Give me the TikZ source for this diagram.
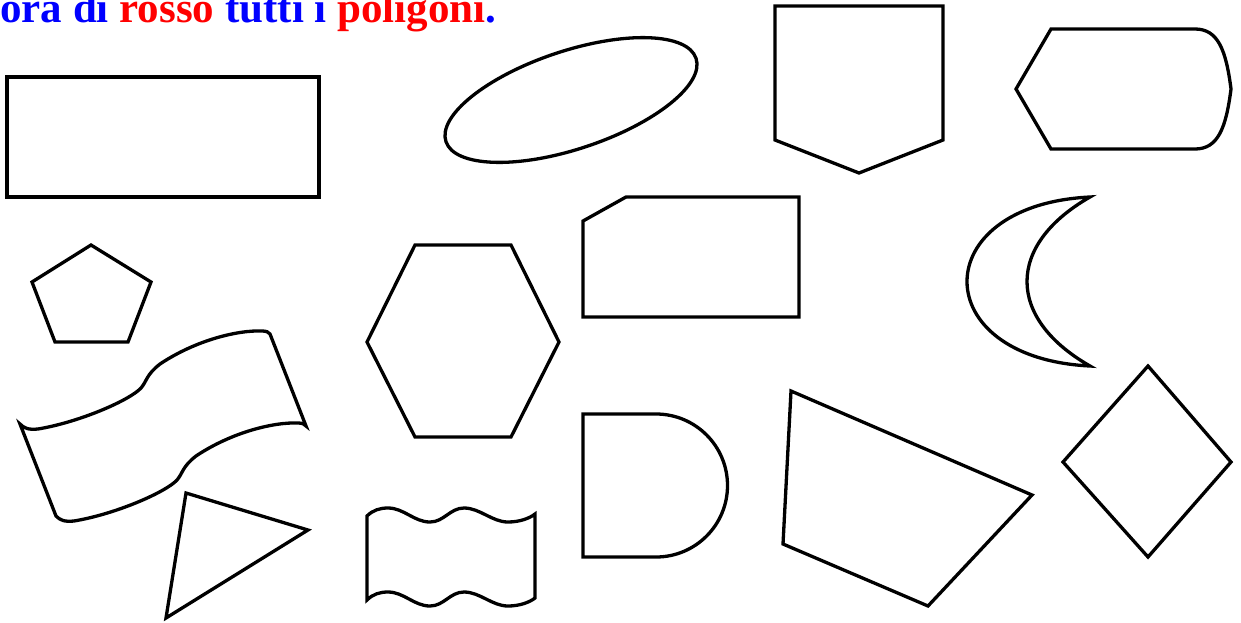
\documentclass[tikz,border=0pt]{standalone}
\usepackage{fontspec}
\setmainfont{Liberation Serif}
\usepackage{tikz}
\tikzset{
  px/.style={x=1pt, y=-1pt},
  shp/.style={black, line width=3.3pt, line join=miter},
  ttl/.style={anchor=base west, inner sep=0pt, font=\fontsize{43}{50}\selectfont\bfseries},
}

\begin{document}
\begin{tikzpicture}[px]
  \useasboundingbox (0,0) rectangle (1241,622);

  % --- title (cut at the top edge) ---
  \node[ttl] (title) at (0,22.3) {\textcolor{blue}{ora di} \textcolor{red}{rosso} \textcolor{blue}{tutti i} \textcolor{red}{poligoni}\textcolor{blue}{.}};

  % --- first row ---
  \draw[shp] (7,77) rectangle (319,197);                                       % rectangle
  \draw[shp, rotate around={18.4:(571,100)}] (571,100) ellipse[x radius=131.8pt, y radius=49pt]; % ellipse
  \draw[shp] (775,6) -- (943,6) -- (943,140) -- (859,173) -- (775,140) -- cycle; % shield
  \draw[shp] (1016,89) -- (1051,29) -- (1195,29)
    .. controls (1218,29) and (1226,50) .. (1231,89)
    .. controls (1226,128) and (1218,149) .. (1195,149) -- (1051,149) -- cycle;  % rounded tag

  % --- second row ---
  \draw[shp] (91,245) -- (151,282) -- (128,342) -- (55,342) -- (32,282) -- cycle; % pentagon
  \draw[shp] (415,245) -- (511,245) -- (559,342) -- (511,437) -- (415,437) -- (367,342) -- cycle; % hexagon
  \draw[shp] (583,221) -- (626,197) -- (799,197) -- (799,317) -- (583,317) -- cycle; % cut rectangle
  \draw[shp] (1090,197) .. controls (926,205) and (926,358) .. (1090,366)
    .. controls (1006,318) and (1006,245) .. cycle;                             % crescent

  % --- waving flag ---
  \draw[shp] (20,424) .. controls (24,428) and (28,430) .. (38,429)
    .. controls (80,422) and (130,400) .. (141,388)
    .. controls (147,381) and (146,375) .. (160,364)
    .. controls (196,340) and (238,330) .. (262,331)
    .. controls (266,331) and (269,332) .. (270,334)
    -- (306,426)
    .. controls (305,424) and (302,423) .. (298,423)
    .. controls (274,422) and (232,432) .. (196,456)
    .. controls (182,467) and (183,473) .. (177,480)
    .. controls (166,492) and (116,514) .. (74,521)
    .. controls (64,522) and (60,520) .. (56,516) -- cycle;

  % --- third row ---
  \draw[shp] (186,493) -- (308,530) -- (166,618) -- cycle;                    % triangle
  \draw[shp] (367,516) .. controls (373,510) and (380,508) .. (388,508)
    .. controls (404,508) and (414,522) .. (430,522)
    .. controls (444,522) and (450,508) .. (464,508)
    .. controls (480,508) and (492,522) .. (508,522)
    .. controls (520,522) and (530,518) .. (535,514)
    -- (535,598)
    .. controls (530,602) and (520,606) .. (508,606)
    .. controls (492,606) and (480,592) .. (464,592)
    .. controls (450,592) and (444,606) .. (430,606)
    .. controls (414,606) and (404,592) .. (388,592)
    .. controls (380,592) and (373,594) .. (367,600) -- cycle;                 % wavy tape
  \draw[shp] (583,414) -- (656,414) arc[start angle=90, end angle=-90, radius=71.5pt]
    -- (583,557) -- cycle;                                                     % D shape
  \draw[shp] (791,391) -- (1032,495) -- (928,606) -- (783,544) -- cycle;      % quadrilateral
  \draw[shp] (1148,366) -- (1231,462) -- (1148,557) -- (1063,462) -- cycle;   % diamond
\end{tikzpicture}
\end{document}
